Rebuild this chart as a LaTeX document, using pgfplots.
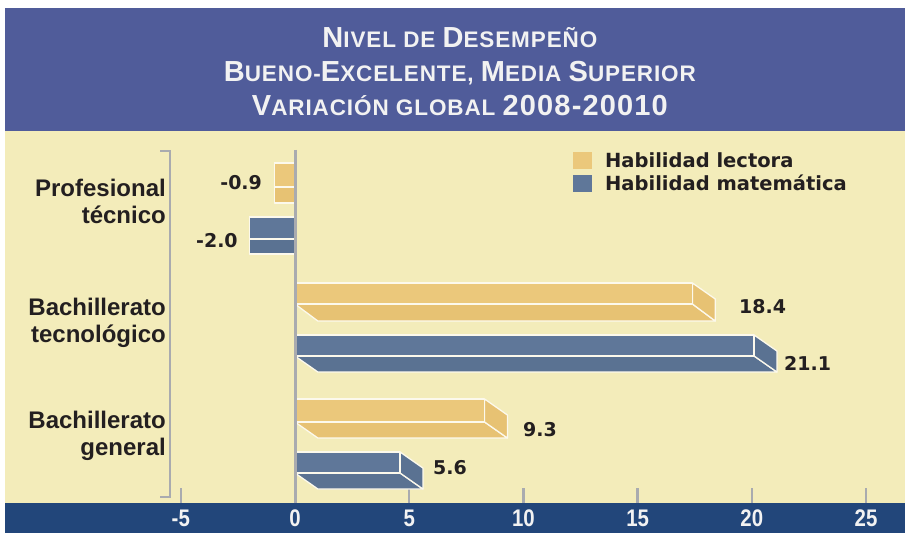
\documentclass[border=0pt]{standalone}
\usepackage{fontspec}
\setmainfont{Liberation Sans}
\newfontfamily\djv{DejaVu Sans}
\newfontfamily\ttl{Liberation Sans}[LetterSpace=4]
\newfontfamily\tickf{Liberation Sans}[FakeStretch=0.85]
\usepackage{pgfplots}
\pgfplotsset{compat=1.18}
\definecolor{titleblue}{HTML}{505C9A}
\definecolor{bgyellow}{HTML}{F3ECBA}
\definecolor{bandblue}{HTML}{22467A}
\definecolor{lect}{HTML}{EBC87B}
\definecolor{lectside}{HTML}{E7C273}
\definecolor{mat}{HTML}{5F7799}
\definecolor{matside}{HTML}{5A7292}
\definecolor{edge}{HTML}{FCF9EC}
\definecolor{linegray}{HTML}{A9ABAF}
\definecolor{txt}{HTML}{231F20}
\definecolor{tickwhite}{HTML}{F2F2F2}
\newcommand\BG[1]{{\fontsize{29}{34}\selectfont #1}}
\newcommand\SM[1]{{\fontsize{22.5}{34}\selectfont #1}}
\pgfplotsset{barface/.style={draw=edge, line width=1.3pt, line join=round}}
% positive 3D bar: value, top row, mid row, bottom row, front colour, side colour
\newcommand\posbar[6]{%
 \pgfmathsetmacro\vf{#1-1}%
 \pgfmathsetmacro\st{#2+16}%
 \edef\doplot{%
  \noexpand\addplot[barface,fill=#6,forget plot] coordinates {(0,-#3) (\vf,-#3) (#1,-#4) (1,-#4) (0,-#3)};%
  \noexpand\addplot[barface,fill=#6,forget plot] coordinates {(\vf,-#2) (#1,-\st) (#1,-#4) (\vf,-#3) (\vf,-#2)};%
  \noexpand\addplot[barface,fill=#5,forget plot] coordinates {(0,-#2) (\vf,-#2) (\vf,-#3) (0,-#3) (0,-#2)};%
 }\doplot}
% negative bar
\newcommand\negbar[6]{%
 \edef\doplot{%
  \noexpand\addplot[barface,fill=#6,forget plot] coordinates {(#1,-#3) (0,-#3) (0,-#4) (#1,-#4) (#1,-#3)};%
  \noexpand\addplot[barface,fill=#5,forget plot] coordinates {(#1,-#2) (0,-#2) (0,-#3) (#1,-#3) (#1,-#2)};%
 }\doplot}
\begin{document}
\begin{tikzpicture}
\begin{axis}[
 set layers,
 scale only axis, width=900pt, height=373pt,
 xmin=-12.697, xmax=26.708, ymin=-503, ymax=-130,
 axis line style={draw=none},
 axis background/.style={fill=bgyellow},
 clip=false,
 xtick={-5,0,5,10,15,20,25},
 xtick pos=bottom, ytick pos=left, tick align=inside,
 major tick length=15pt,
 xtick style={draw=linegray, line width=2.5pt},
 ytick={-436,-323,-201},
 yticklabels={{Bachillerato\\general},{Bachillerato\\tecnológico},{Profesional\\técnico}},
 ytick style={draw=none},
 yticklabel style={align=right, font=\fontsize{24}{27}\selectfont\bfseries, text=txt, inner sep=0pt, xshift=161pt},
 xticklabel style={font=\tickf\fontsize{24}{24}\selectfont\bfseries, text=tickwhite, yshift=-3pt},
 /pgf/number format/assume math mode=true,
 legend style={at={(axis cs:12.17,-152)}, anchor=north west, draw=none, fill=none,
   font=\djv\bfseries\fontsize{19.5}{19.5}\selectfont, row sep=6pt, inner sep=0pt,
   nodes={inner sep=1pt, text height=14.5pt, text depth=0pt, text=txt}},
 legend cell align=left,
 legend image code/.code={\fill[#1, draw=none] (0pt,-8.5pt) rectangle (19pt,8.5pt); \path (31pt,0pt);},
]
\begin{pgfonlayer}{axis background}
\fill[titleblue] (axis cs:-12.697,-131) rectangle (axis cs:26.708,-8);
\fill[bandblue] (axis cs:-12.697,-533) rectangle (axis cs:26.708,-503);
\end{pgfonlayer}
\path (axis cs:-12.916,0) rectangle (axis cs:26.708,-533);
\addlegendimage{fill=lect, draw=none}
\addlegendentry{Habilidad lectora}
\addlegendimage{fill=mat, draw=none}
\addlegendentry{Habilidad matemática}
% Profesional técnico
\negbar{-0.9}{163}{187}{203}{lect}{lectside}
\negbar{-2.0}{217}{239}{254}{mat}{matside}
% Bachillerato tecnológico
\posbar{18.4}{283}{304}{321}{lect}{lectside}
\posbar{21.1}{335}{356}{372}{mat}{matside}
% Bachillerato general
\posbar{9.3}{399}{422}{438}{lect}{lectside}
\posbar{5.6}{452}{473}{489}{mat}{matside}
% zero line and bracket
\draw[linegray, line width=3pt] (axis cs:0,-150) -- (axis cs:0,-503);
\draw[linegray, line width=2.5pt] (axis cs:-5.91,-151) -- (axis cs:-5.47,-151) -- (axis cs:-5.47,-497) -- (axis cs:-5.91,-497);
% value labels
\begin{scope}[every node/.style={inner sep=0pt, text=txt, font=\djv\bfseries\fontsize{19}{19}\selectfont}]
\node[anchor=east] at (axis cs:-1.44,-183) {-0.9};
\node[anchor=east] at (axis cs:-2.50,-241) {-2.0};
\node[anchor=west] at (axis cs:19.44,-307) {18.4};
\node[anchor=west] at (axis cs:21.41,-363) {21.1};
\node[anchor=west] at (axis cs:9.98,-430) {9.3};
\node[anchor=west] at (axis cs:6.04,-468) {5.6};
\end{scope}
% title
\begin{scope}[every node/.style={anchor=base, text=tickwhite, inner sep=0pt}]
\node at (axis cs:7.22,-48) {\ttl\bfseries\BG{N}\SM{IVEL DE }\BG{D}\SM{ESEMPEÑO}};
\node at (axis cs:7.22,-82) {\ttl\bfseries\BG{B}\SM{UENO-}\BG{E}\SM{XCELENTE, }\BG{M}\SM{EDIA }\BG{S}\SM{UPERIOR}};
\node at (axis cs:7.22,-116) {\ttl\bfseries\BG{V}\SM{ARIACIÓN GLOBAL }\BG{2008-20010}};
\end{scope}
\end{axis}
\end{tikzpicture}
\end{document}
